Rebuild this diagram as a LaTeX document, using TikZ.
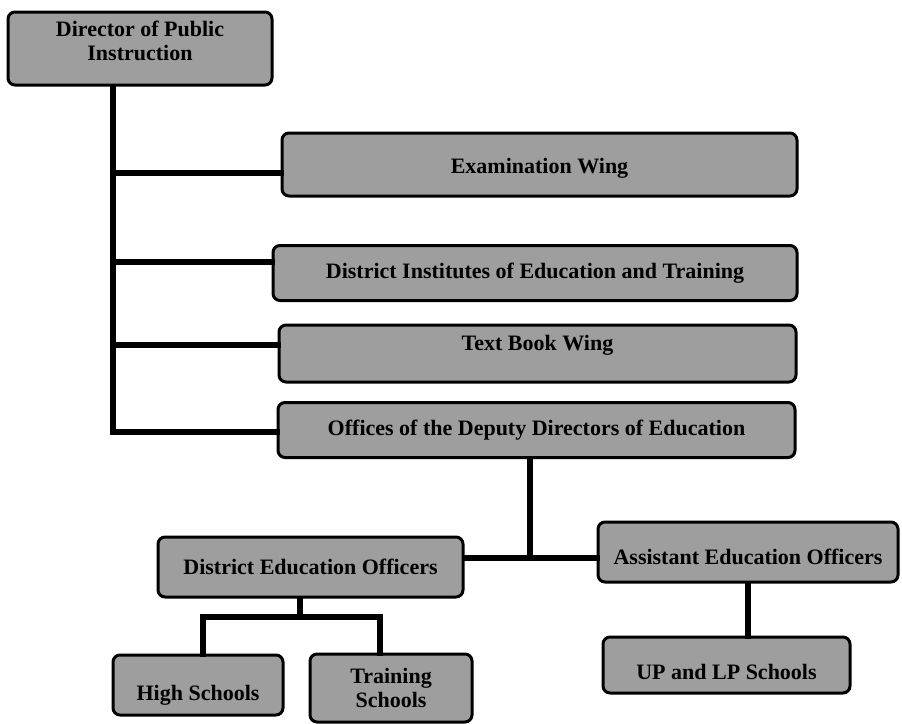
\documentclass[tikz,border=0pt]{standalone}
\usepackage{fontspec}
\setmainfont{Liberation Serif}
\tikzset{
  unit/.style={draw,line width=3pt,rounded corners=7pt,fill=black!38,font=\bfseries\fontsize{22}{24}\selectfont,inner sep=2pt,align=center},
  link/.style={line width=6pt,line cap=rect}
}
\begin{document}
\begin{tikzpicture}[x=1pt,y=-1pt]
\useasboundingbox (0,0) rectangle (902,723);
   \node[unit,minimum width=264pt,minimum height=73pt,text depth=15pt] (dpi) at (140,48.5) {Director of Public\\Instruction};
   \node[unit,minimum width=515pt,minimum height=63pt,text height=23pt] (exam) at (539.5,164.5) {Examination Wing};
   \node[unit,minimum width=524pt,minimum height=55pt] (diet) at (535,273) {District Institutes of Education and Training};
   \node[unit,minimum width=517pt,minimum height=57pt,text depth=21pt] (tbw) at (537.5,353.5) {Text Book Wing};
   \node[unit,minimum width=517pt,minimum height=55pt] (odde) at (536.5,430) {Offices of the Deputy Directors of Education};
   \node[unit,minimum width=305pt,minimum height=60pt] (deo) at (310.5,567) {District Education Officers};
   \node[unit,minimum width=300pt,minimum height=60pt,text height=26pt] (aeo) at (748,552) {Assistant Education Officers};
   \node[unit,minimum width=170pt,minimum height=60pt,text height=36pt] (hs) at (198,685) {High Schools};
   \node[unit,minimum width=162pt,minimum height=68pt] (ts) at (391,688) {Training\\Schools};
   \node[unit,minimum width=247pt,minimum height=56pt,text height=30pt] (up) at (726.5,665) {UP and LP Schools};

   \coordinate (j1) at (113,173);
   \coordinate (j2) at (113,262);
   \coordinate (j3) at (113,345);
   \coordinate (j4) at (113,432);
\draw[link] (dpi.south -| j1)--(j4)--(odde.west |- j4);
\draw[link] (j1)--(exam.west |- j1);
\draw[link] (j2)--(diet.west |- j2);
\draw[link] (j3)--(tbw.west |- j3);

   \coordinate (k) at (530,558);
\draw[link] (odde.south -| k)--(k);
\draw[link] (deo.east |- k)--(aeo.west |- k);

   \coordinate (m) at (300,617);
   \coordinate (m1) at (203,617);
   \coordinate (m2) at (380,617);
\draw[link] (deo.south -| m)--(m);
\draw[link] (hs.north -| m1)--(m1)--(m2)--(ts.north -| m2);
\draw[link] (aeo.south)--(aeo.south |- up.north);
\end{tikzpicture}
\end{document}
